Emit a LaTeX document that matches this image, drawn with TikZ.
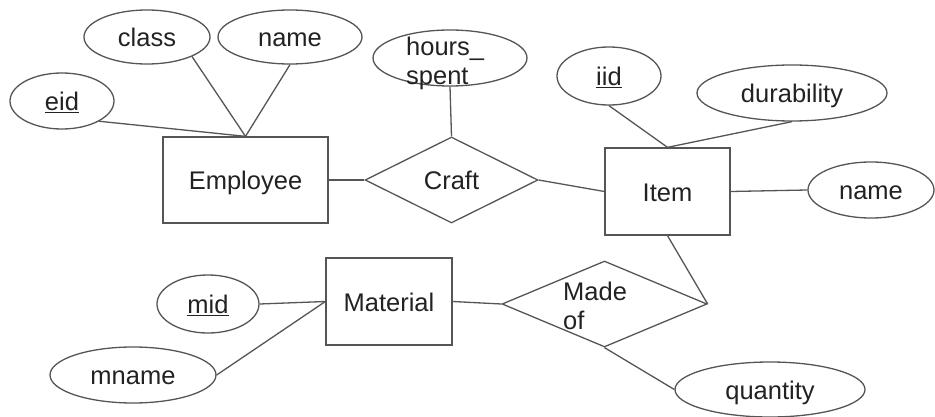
\documentclass[tikz,border=0pt]{standalone}
\usepackage{fontspec}
\setmainfont{Liberation Sans}
\usetikzlibrary{shapes.geometric}
\definecolor{linec}{HTML}{555555}
\definecolor{textc}{HTML}{222222}
\tikzset{
  base/.style={draw=linec, line width=1.3pt, inner sep=0pt, text=textc,
    font=\fontsize{25.5}{30}\selectfont, text height=21pt, text depth=2pt},
  attr/.style={base, ellipse},
  entity/.style={base, rectangle},
  rel/.style={base, diamond},
  lbl/.style={inner sep=0pt, text=textc, font=\fontsize{25.5}{29}\selectfont, align=left},
  conn/.style={draw=linec, line width=1.3pt}
}
\begin{document}
\begin{tikzpicture}[x=1pt,y=-1pt]
\useasboundingbox (0,0) rectangle (935,417);
% entities
\node[entity, minimum width=165pt, minimum height=86pt] (emp) at (245.5,180) {Employee};
\node[entity, minimum width=125pt, minimum height=87pt] (item) at (667.5,191.5) {Item};
\node[entity, minimum width=126pt, minimum height=87pt] (mat) at (389,301.5) {Material};
% relationships
\node[rel, minimum width=173pt, minimum height=86pt] (craft) at (451.5,180) {Craft};
\node[rel, minimum width=205pt, minimum height=86pt] (made) at (604.5,304) {};
\node[lbl, anchor=west] (madetxt) at (563,306) {Made\\of};
% attributes
\node[attr, minimum width=104pt, minimum height=56pt] (eid) at (62,101) {\underline{eid}};
\node[attr, minimum width=126pt, minimum height=54pt] (class) at (147,37) {class};
\node[attr, minimum width=144pt, minimum height=54pt] (ename) at (290,37) {name};
\node[attr, minimum width=154pt, minimum height=56pt] (hours) at (450,58) {};
\node[lbl, anchor=west] (hourstxt) at (406,63) {hours\_\\spent};
\node[attr, minimum width=104pt, minimum height=58pt] (iid) at (609,76) {\underline{iid}};
\node[attr, minimum width=190pt, minimum height=56pt] (dur) at (792,93) {durability};
\node[attr, minimum width=126pt, minimum height=56pt] (iname) at (871,190) {name};
\node[attr, minimum width=102pt, minimum height=58pt] (mid) at (208,304) {\underline{mid}};
\node[attr, minimum width=166pt, minimum height=56pt] (mname) at (133,375) {mname};
\node[attr, minimum width=190pt, minimum height=55pt] (qty) at (770,389.5) {quantity};
% connectors
\draw[conn] (eid.south east) -- (emp.north);
\draw[conn] (class.south east) -- (emp.north);
\draw[conn] (ename.south) -- (emp.north);
\draw[conn] (emp.east) -- (craft.west);
\draw[conn] (hours.south) -- (craft.north);
\draw[conn] (craft.east) -- (item.west);
\draw[conn] (iid.south) -- (item.north);
\draw[conn] (dur.south) -- (item.north);
\draw[conn] (item.east) -- (iname.west);
\draw[conn] (item.south) -- (made.east);
\draw[conn] (mat.east) -- (made.west);
\draw[conn] (made.south) -- (qty.west);
\draw[conn] (mid.east) -- (mat.west);
\draw[conn] (mname.east) -- (mat.west);
\end{tikzpicture}
\end{document}
